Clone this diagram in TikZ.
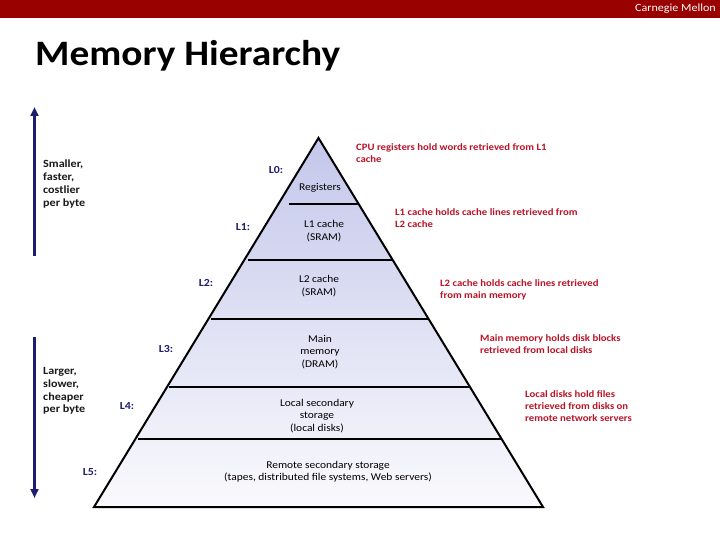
\documentclass[tikz,border=0pt]{standalone}
\usepackage{fontspec}
\setmainfont[FakeStretch=1.1]{Carlito}
\usetikzlibrary{arrows.meta}
\definecolor{cmured}{RGB}{153,0,0}
\definecolor{annred}{RGB}{185,20,40}
\definecolor{navy}{RGB}{30,30,110}
\definecolor{pyrtop}{RGB}{196,199,235}
\definecolor{pyrbot}{RGB}{250,250,253}
\tikzset{
  annot/.style={text=annred, font=\fontsize{9.75}{12.3}\selectfont\bfseries, align=left, anchor=west, inner sep=0pt},
  sidetxt/.style={text=black!90, font=\fontsize{11}{12.7}\selectfont\bfseries, align=left, anchor=west, inner sep=0pt},
  lvl/.style={text=navy, font=\fontsize{10.8}{11}\selectfont\bfseries, inner sep=0pt},
  pyrtxt/.style={text=black, font=\fontsize{10.4}{12.4}\selectfont, align=center, inner sep=0pt},
  divider/.style={line width=2.2pt, black},
  bigarrow/.style={navy, line width=2.6pt, -{Triangle[length=9pt,width=8pt]}}
}
\begin{document}
\begin{tikzpicture}[x=1pt,y=-1pt]
\useasboundingbox (0,0) rectangle (720,540);
\fill[white] (0,0) rectangle (720,540);
% header bar
\fill[cmured] (0,0) rectangle (720,18);
\node[text=white, font=\fontsize{11}{12}\selectfont, anchor=east, inner sep=0pt] (brand) at (716,9) {Carnegie Mellon};
% title
\node[font=\fontsize{35.8}{38}\selectfont\bfseries, anchor=base west, inner sep=0pt] (title) at (35,66) {Memory Hierarchy};
% pyramid
\coordinate (apex) at (318.5,138);
\coordinate (bl) at (94,507);
\coordinate (br) at (543,507);
\shade[top color=pyrtop, bottom color=pyrbot] (apex) -- (br) -- (bl) -- cycle;
\draw[divider] (289,204) -- (358,204);
\draw[divider] (248,260) -- (393,260);
\draw[divider] (211,319) -- (428,319);
\draw[divider] (169,387) -- (469,387);
\draw[divider] (138,439) -- (501,439);
\draw[line width=2pt, line join=miter] (apex) -- (br) -- (bl) -- cycle;
% pyramid texts
\node[pyrtxt] (reg) at (320,188) {Registers};
\node[pyrtxt] (l1c) at (324,231) {L1 cache\\(SRAM)};
\node[pyrtxt] (l2c) at (319,286) {L2 cache\\(SRAM)};
\node[pyrtxt] (mm) at (320,352) {Main\\memory\\(DRAM)};
\node[pyrtxt] (lss) at (317,416) {Local secondary\\storage\\(local disks)};
\node[pyrtxt] (rss) at (328,472) {Remote secondary storage\\(tapes, distributed file systems, Web servers)};
% level labels
\node[lvl] (L0) at (276,170) {L0:};
\node[lvl] (L1) at (243,227) {L1:};
\node[lvl] (L2) at (206,283) {L2:};
\node[lvl] (L3) at (166,349) {L3:};
\node[lvl] (L4) at (127,406) {L4:};
\node[lvl] (L5) at (90,472) {L5:};
% annotations
\node[annot] (a0) at (356,153) {CPU registers hold words retrieved from L1\\cache};
\node[annot] (a1) at (395,218) {L1 cache holds cache lines retrieved from\\L2 cache};
\node[annot] (a2) at (440,290) {L2 cache holds cache lines retrieved\\from main memory};
\node[annot] (a3) at (480,344) {Main memory holds disk blocks\\retrieved from local disks};
\node[annot] (a4) at (525,406) {Local disks hold files\\retrieved from disks on\\remote network servers};
% side arrows and texts
\coordinate (up0) at (34.5,256);
\coordinate (up1) at (34.5,107);
\coordinate (dn0) at (34.5,337);
\coordinate (dn1) at (34.5,498);
\draw[bigarrow] (up0) -- (up1);
\draw[bigarrow] (dn0) -- (dn1);
\node[sidetxt] (s1) at (43,184) {Smaller,\\faster,\\costlier\\per byte};
\node[sidetxt] (s2) at (43,391) {Larger,\\slower,\\cheaper\\per byte};
\end{tikzpicture}
\end{document}
